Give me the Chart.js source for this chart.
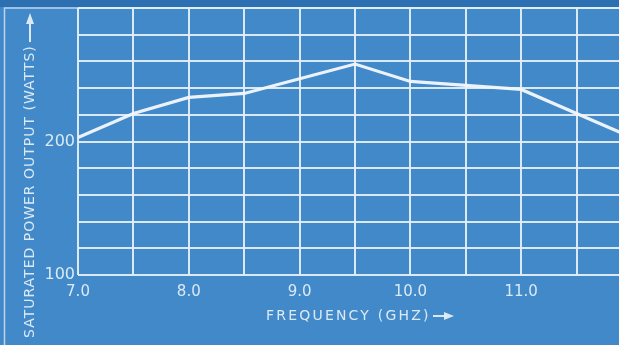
<!DOCTYPE html>
<html>
<head>
<meta charset="utf-8">
<script src="https://cdn.jsdelivr.net/npm/chart.js@4"></script>
<style>
  html, body { margin: 0; padding: 0; overflow: hidden; background: #4189c8; }
  #wrap { width: 645px; height: 345px; }
</style>
</head>
<body>
<div id="wrap"><canvas id="chart" width="645" height="345"></canvas></div>
<script>
// frequency (GHz) and saturated power output (watts)
const freqs = [7.0, 7.5, 8.0, 8.5, 9.0, 9.5, 10.0, 10.5, 11.0, 11.5, 12.0];
const power = [203, 221, 233, 236, 247, 258, 245, 242, 239, 221, 203];
const xLabels = ['7.0', '8.0', '9.0', '10.0', '11.0'];
const yLabels = ['100', '200'];

const bgColor = '#4189c8';
const bandColor = '#2d70b2';
const ink = 'rgba(228,238,248,0.95)';
const font = '"DejaVu Sans", sans-serif';

const blueprint = {
  id: 'blueprint',
  beforeDraw(chart) {
    const ctx = chart.ctx;
    const w = chart.width, h = chart.height;
    ctx.save();
    ctx.fillStyle = bgColor;
    ctx.fillRect(0, 0, w, h);
    ctx.fillStyle = bandColor;
    ctx.fillRect(0, 0, w, 7);
    ctx.strokeStyle = 'rgba(210,226,244,0.85)';
    ctx.lineWidth = 1.5;
    ctx.beginPath();
    ctx.moveTo(4.5, h);
    ctx.lineTo(4.5, 8);
    ctx.lineTo(w, 8);
    ctx.stroke();
    ctx.restore();
  },
  afterDraw(chart) {
    const ctx = chart.ctx;
    ctx.save();
    ctx.fillStyle = ink;
    ctx.strokeStyle = ink;
    ctx.font = '14px ' + font;
    ctx.textBaseline = 'middle';

    // x axis title
    ctx.letterSpacing = '2.2px';
    ctx.textAlign = 'left';
    ctx.fillText('FREQUENCY (GHZ)', 266, 316);
    ctx.lineWidth = 2;
    ctx.beginPath(); ctx.moveTo(433, 316); ctx.lineTo(446, 316); ctx.stroke();
    ctx.beginPath(); ctx.moveTo(454, 316); ctx.lineTo(444, 312); ctx.lineTo(444, 320); ctx.closePath(); ctx.fill();

    // y axis title
    ctx.translate(30, 0);
    ctx.rotate(-Math.PI / 2);
    ctx.letterSpacing = '1px';
    ctx.fillText('SATURATED POWER OUTPUT (WATTS)', -338, 0);
    ctx.beginPath(); ctx.moveTo(-42, 0); ctx.lineTo(-24, 0); ctx.stroke();
    ctx.beginPath(); ctx.moveTo(-13, 0); ctx.lineTo(-24, -4); ctx.lineTo(-24, 4); ctx.closePath(); ctx.fill();
    ctx.restore();
  }
};

new Chart(document.getElementById('chart'), {
  type: 'line',
  data: {
    datasets: [{
      data: freqs.map((f, i) => ({ x: f, y: power[i] })),
      borderColor: 'rgba(242,246,252,0.97)',
      borderWidth: 3.2,
      pointRadius: 0,
      tension: 0
    }]
  },
  options: {
    responsive: false,
    animation: false,
    layout: { padding: { left: 0, top: 8, right: 13, bottom: 0 } },
    plugins: { legend: { display: false }, tooltip: { enabled: false } },
    scales: {
      x: {
        type: 'linear',
        min: 7, max: 12,
        afterFit: s => { s.height = 70; s.paddingLeft = 0; s.paddingRight = 0; },
        grid: { color: ink, lineWidth: 2, drawTicks: false },
        border: { display: false },
        ticks: {
          stepSize: 0.5,
          padding: 8,
          color: ink,
          font: { family: font, size: 15 },
          maxRotation: 0,
          autoSkip: false,
          callback: v => xLabels.includes(v.toFixed(1)) ? v.toFixed(1) : ''
        }
      },
      y: {
        min: 100, max: 300,
        afterFit: s => { s.width = 78; s.paddingTop = 0; s.paddingBottom = 0; },
        grid: { color: ink, lineWidth: 2, drawTicks: false },
        border: { display: false },
        ticks: {
          stepSize: 20,
          padding: 3,
          color: ink,
          font: { family: font, size: 16 },
          autoSkip: false,
          callback: v => yLabels.includes(String(v)) ? String(v) : ''
        }
      }
    }
  },
  plugins: [blueprint]
});
</script>
</body>
</html>
